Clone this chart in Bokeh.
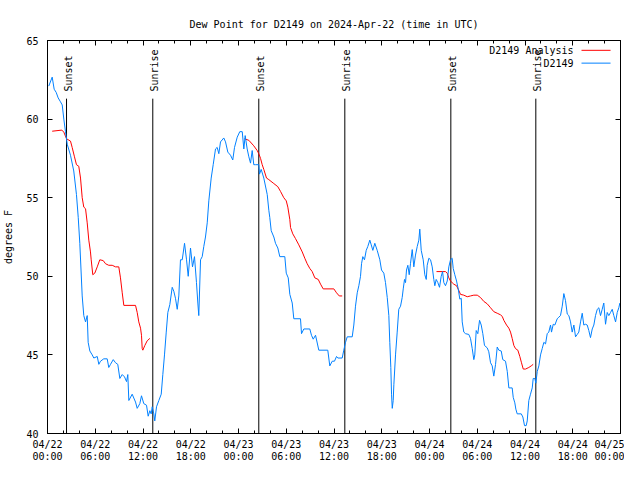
import math
from datetime import datetime, timedelta
from bokeh.plotting import figure
from bokeh.models import Range1d, FixedTicker, DatetimeTickFormatter, LinearAxis, DatetimeAxis, Label
from bokeh.core.properties import value
from bokeh.embed import file_html
from bokeh.resources import INLINE

TITLE = "Dew Point for D2149 on 2024-Apr-22 (time in UTC)"
Y_LABEL = "degrees F"
START = datetime(2024, 4, 22, 0, 0)
SPAN_HOURS = 72
Y_TICKS = [40, 45, 50, 55, 60, 65]

# observed dew point (hours after 04/22 00:00 UTC, deg F)
obs_h = [0.16, 0.59, 0.84, 1.09, 1.34, 1.63, 1.85, 2.05, 2.26, 2.48, 2.89, 3.30, 3.64, 3.86, 4.06,
         4.36, 4.56, 4.78, 4.99, 5.11, 5.32, 5.62, 5.82, 6.25, 6.45, 6.66, 7.07, 7.50, 7.70, 7.92,
         8.26, 8.55, 8.83, 9.09, 9.39, 9.68, 9.93, 10.09, 10.22, 10.64, 11.06, 11.27, 11.60, 11.81,
         12.10, 12.44, 12.65, 12.86, 13.03, 13.16, 13.36, 13.48, 13.70, 13.99, 14.29, 14.49, 14.70,
         14.92, 15.12, 15.37, 15.67, 15.87, 16.08, 16.30, 16.50, 16.71, 16.93, 17.22, 17.47, 17.68,
         17.97, 18.22, 18.47, 18.72, 18.89, 19.01, 19.23, 19.44, 19.64, 19.85, 20.07, 20.27, 20.57,
         20.82, 21.11, 21.32, 21.53, 21.74, 22.15, 22.37, 22.66, 23.00, 23.28, 23.50, 23.84, 24.16,
         24.47, 24.67, 24.84, 25.09, 25.30, 25.51, 25.72, 25.92, 26.14, 26.55, 26.64, 26.85, 27.18,
         27.61, 27.81, 27.93, 28.11, 28.44, 28.65, 28.94, 29.19, 29.82, 30.00, 30.25, 30.45, 30.75,
         30.95, 31.79, 31.92, 32.21, 32.96, 33.17, 33.39, 33.68, 34.09, 35.22, 35.47, 35.78, 36.06,
         36.32, 36.48, 37.03, 37.23, 37.45, 37.66, 38.29, 38.49, 38.70, 38.92, 39.12, 39.33, 39.46,
         39.62, 39.83, 40.05, 40.25, 40.50, 40.68, 40.88, 41.13, 41.43, 41.76, 41.97, 42.26, 42.47,
         42.69, 42.89, 43.01, 43.14, 43.23, 43.32, 43.44, 43.52, 43.73, 43.94, 44.14, 44.36, 44.57,
         44.70, 44.86, 44.99, 45.11, 45.28, 45.45, 45.61, 45.83, 46.03, 46.24, 46.46, 46.66, 46.78,
         46.96, 47.21, 47.41, 47.59, 47.71, 47.92, 48.13, 48.34, 48.54, 48.67, 48.84, 49.05, 49.26,
         49.47, 49.64, 49.80, 50.01, 50.23, 50.43, 50.64, 50.85, 50.98, 51.18, 51.40, 51.61, 51.81,
         51.99, 52.11, 52.31, 52.53, 52.94, 53.15, 53.37, 53.57, 53.69, 53.87, 54.07, 54.29, 54.50,
         54.70, 54.91, 55.25, 55.45, 55.67, 55.88, 56.08, 56.30, 56.51, 56.71, 57.01, 57.21, 57.55,
         57.77, 57.97, 58.39, 58.52, 58.72, 58.85, 59.02, 59.53, 59.73, 59.94, 60.15, 60.28, 60.48,
         60.69, 60.91, 61.03, 61.24, 61.36, 61.54, 61.74, 61.95, 62.16, 62.37, 62.58, 62.79, 62.99,
         63.21, 63.33, 63.55, 63.75, 64.05, 64.25, 64.46, 64.68, 64.88, 65.09, 65.31, 65.51, 65.72,
         65.93, 66.14, 66.35, 66.56, 66.76, 66.98, 67.19, 67.39, 67.61, 67.82, 68.02, 68.23, 68.45,
         68.65, 68.86, 69.08, 69.28, 69.49, 69.70, 69.90, 70.12, 70.33, 70.53, 70.75, 70.96, 71.16,
         71.38, 71.59, 71.79, 71.92]
obs_v = [62.1, 62.67, 61.9, 61.7, 61.35, 61.1, 60.9, 60.0, 59.2, 58.4, 57.7, 56.7, 55.2, 53.75, 52.1,
         48.75, 47.5, 47.1, 47.5, 45.8, 45.25, 45.0, 44.8, 44.9, 44.4, 44.6, 44.75, 44.75, 44.2, 44.4,
         44.7, 44.5, 44.4, 43.5, 43.75, 43.6, 43.3, 43.75, 42.1, 42.5, 42.0, 41.6, 41.9, 42.4,
         41.9, 41.8, 41.1, 41.45, 41.25, 41.7, 41.25, 40.8, 41.7, 42.1, 42.5, 43.75, 45.0,
         46.45, 47.7, 48.2, 49.3, 49.05, 48.6, 47.9, 48.75, 51.05, 51.05, 52.1, 51.05, 50.0,
         51.8, 50.6, 51.25, 49.6, 48.3, 47.5, 51.05, 51.25, 51.9, 52.5, 53.4, 54.8, 56.25,
         57.1, 58.1, 58.2, 57.8, 58.55, 58.8, 58.55, 57.9, 57.7, 57.4, 58.2, 58.85, 59.2,
         59.2, 58.1, 58.95, 58.1, 57.6, 57.2, 58.0, 57.1, 57.1, 57.1, 56.5, 56.8, 56.25,
         55.2, 54.2, 53.75, 52.9, 52.5, 52.1, 51.8, 51.25, 51.25, 50.2, 49.9, 48.85, 48.3,
         47.3, 47.3, 46.35, 46.65, 46.65, 46.25, 46.0, 46.25, 45.3, 45.3, 44.3, 44.6, 44.6,
         44.9, 44.8, 44.8, 45.3, 45.8, 46.15, 46.15, 46.9, 48.1, 48.95, 49.4, 50.0, 50.8,
         51.25, 51.05, 51.65, 51.9, 52.3, 52.0, 51.65, 52.1, 51.65, 51.05, 50.4, 50.2, 49.6,
         48.65, 47.5, 45.8, 44.2, 42.5, 41.6, 42.1, 43.1, 45.0, 46.45, 47.9, 48.1, 48.65,
         49.2, 49.8, 49.6, 50.4, 50.7, 50.1, 50.8, 51.7, 50.6, 51.35, 51.9, 52.3, 53.0,
         51.65, 51.05, 50.1, 49.8, 50.7, 51.15, 51.05, 50.6, 49.8, 49.4, 49.8, 49.6, 49.3,
         50.0, 50.3, 49.6, 49.4, 49.7, 50.6, 51.05, 51.15, 50.5, 50.1, 49.7, 49.2, 48.55,
         48.6, 47.1, 46.45, 46.35, 46.3, 46.05, 45.4, 44.7, 45.0, 46.55, 46.35, 47.2, 46.9,
         46.35, 45.6, 45.45, 45.2, 44.5, 44.3, 43.65, 44.4, 45.5, 45.3, 45.25, 44.7, 44.6,
         43.95, 42.9, 42.9, 42.3, 41.95, 41.55, 41.25, 41.25, 41.05, 40.5, 40.5, 40.8, 42.1,
         42.5, 42.9, 43.5, 43.5, 43.2, 43.95, 44.3, 45.0, 45.4, 45.8, 45.7, 46.35, 46.45,
         46.9, 46.45, 46.95, 46.9, 47.3, 47.4, 47.5, 48.1, 48.9, 48.45, 47.6, 47.5, 47.1,
         46.45, 46.9, 46.15, 46.3, 46.45, 47.1, 47.65, 46.9, 46.95, 46.9, 46.55, 46.1, 46.65,
         46.9, 47.5, 47.9, 48.0, 47.5, 47.9, 48.3, 46.95, 47.7, 47.5, 47.7, 47.9, 47.5,
         47.1, 47.7, 48.0, 48.3]

# analysis dew point, three separate runs
ana1_h = [0.59, 1.80, 2.05, 2.39, 2.89, 3.10, 3.39, 3.64, 3.93, 4.15, 4.36, 4.56, 4.78, 4.99, 5.19,
          5.40, 5.49, 5.69, 5.94, 6.25, 6.57, 7.00, 7.29, 7.70, 8.13, 8.55, 8.96, 9.17, 9.39, 9.59,
          11.06, 11.27, 11.47, 11.69, 11.81, 11.90, 11.98, 12.23, 12.53, 12.86]
ana1_v = [59.23, 59.3, 59.17, 58.75, 58.6, 58.2, 57.6, 57.1, 57.0, 56.25, 55.0, 54.4, 54.3, 53.4, 52.3,
          51.55, 51.05, 50.1, 50.2, 50.6, 51.05, 51.0, 50.8, 50.7, 50.7, 50.6, 50.6, 49.9, 48.95, 48.15,
          48.15, 47.7, 47.1, 46.7, 46.25, 45.4, 45.3, 45.6, 45.9, 46.05]
ana2_h = [24.76, 25.30, 25.92, 26.35, 26.55, 26.77, 26.98, 27.18, 27.52, 27.81, 28.44, 28.94, 29.28,
          29.69, 30.00, 30.20, 30.45, 30.54, 30.82, 31.16, 31.58, 32.01, 32.33, 32.63, 32.96, 33.26,
          33.59, 34.02, 34.31, 34.64, 35.98, 36.32, 36.66, 37.03]
ana2_v = [58.75, 58.65, 58.3, 58.0, 57.8, 57.5, 57.1, 56.8, 56.25, 56.15, 55.9, 55.7, 55.4,
          55.0, 54.8, 54.4, 53.6, 53.1, 52.7, 52.4, 52.0, 51.55, 51.15, 50.8, 50.5, 50.3,
          49.9, 49.8, 49.5, 49.2, 49.2, 48.95, 48.75, 48.75]
ana3_h = [48.88, 50.01, 50.23, 50.43, 50.64, 50.85, 51.05, 51.40, 51.68, 51.90, 52.31, 52.74, 53.15,
          53.57, 54.00, 54.41, 54.83, 55.25, 55.67, 56.08, 56.51, 56.92, 57.14, 57.34, 57.68, 57.97,
          58.18, 58.39, 58.60, 58.81, 59.10, 59.35, 59.56, 59.78, 60.07, 60.48, 60.78, 61.03]
ana3_v = [50.3, 50.3, 50.2, 49.9, 49.7, 49.6, 49.5, 49.4, 49.1, 48.85, 48.8, 48.7, 48.75,
          48.8, 48.8, 48.65, 48.4, 48.25, 48.0, 47.75, 47.65, 47.55, 47.45, 47.2, 46.9, 46.7,
          46.45, 46.05, 45.6, 45.4, 45.3, 44.9, 44.5, 44.1, 44.1, 44.2, 44.3, 44.4]

sun_h = [2.39, 13.23, 26.55, 37.36, 50.68, 61.36]
sun_labels = ["Sunset", "Sunrise", "Sunset", "Sunrise", "Sunset", "Sunrise"]

FONT = "DejaVu Sans Mono"
FS = "10px"
RED = "#ff0000"
BLUE = "#0080ff"


def t(h):
    return START + timedelta(hours=h)


def ms(h):
    return (t(h) - datetime(1970, 1, 1)).total_seconds() * 1000.0


p = figure(width=624, height=464, output_backend="svg", toolbar_location=None,
           x_axis_type="datetime",
           x_range=Range1d(t(0), t(SPAN_HOURS)), y_range=Range1d(40, 65),
           min_border_left=47, min_border_right=4, min_border_top=40, min_border_bottom=27)
p.title.text = TITLE
p.title.text_font = FONT
p.title.text_font_size = FS
p.title.text_font_style = "normal"
p.title.text_color = "black"
p.title.align = "center"
p.title.offset = 0
p.title.standoff = 22
p.grid.visible = False
p.outline_line_color = "black"
p.background_fill_color = "white"
p.border_fill_color = "white"

major = [ms(h) for h in range(0, SPAN_HOURS + 1, 6)]
minor = [ms(h) for h in range(0, SPAN_HOURS + 1, 2)]
xticker = FixedTicker(ticks=major, minor_ticks=minor)
fmt = "%m/%d\n%H:%M"
xfmt = DatetimeTickFormatter(microseconds=fmt, milliseconds=fmt, seconds=fmt, minsec=fmt,
                             minutes=fmt, hourmin=fmt, hours=fmt, days=fmt, months=fmt, years=fmt)
yticker = FixedTicker(ticks=Y_TICKS, minor_ticks=[])


def style_axis(ax, show_labels):
    ax.axis_line_color = "black"
    ax.major_tick_line_color = "black"
    ax.minor_tick_line_color = "black"
    ax.major_tick_in = 5
    ax.major_tick_out = 0
    ax.minor_tick_in = 3
    ax.minor_tick_out = 0
    ax.major_label_text_font = FONT
    if show_labels:
        ax.major_label_text_font_size = FS
        ax.major_label_text_color = "black"
    else:
        ax.major_label_text_font_size = "1px"
        ax.major_label_text_color = None
        ax.major_label_standoff = 0


xa = p.xaxis[0]
xa.ticker = xticker
xa.formatter = xfmt
style_axis(xa, True)
xa.major_label_standoff = 5
xa.major_label_text_line_height = 1.1

ya = p.yaxis[0]
ya.ticker = yticker
style_axis(ya, True)
ya.major_label_standoff = 9
ya.axis_label = Y_LABEL
ya.axis_label_text_font = FONT
ya.axis_label_text_font_size = FS
ya.axis_label_text_font_style = "normal"
ya.axis_label_text_color = "black"
ya.axis_label_standoff = 9

ra = LinearAxis(ticker=yticker)
style_axis(ra, False)
p.add_layout(ra, "right")
ta = DatetimeAxis(ticker=xticker, formatter=xfmt)
style_axis(ta, False)
p.add_layout(ta, "above")

# sunrise / sunset markers
sun_t = [t(h) for h in sun_h]
p.segment(x0=sun_t, y0=[40] * len(sun_t), x1=sun_t, y1=[61.3] * len(sun_t),
          line_color="black", line_width=1)
p.text(x=sun_t, y=[61.75] * len(sun_t), text=sun_labels, angle=math.pi / 2,
       text_align="left", text_baseline="middle", x_offset=2,
       text_font=value(FONT), text_font_size=value(FS), text_color="black")

# analysis line (gaps between runs)
nan = float("nan")
ana_h = ana1_h + [nan] + ana2_h + [nan] + ana3_h
ana_v = ana1_v + [nan] + ana2_v + [nan] + ana3_v
ana_ms = [ms(h) if not math.isnan(h) else nan for h in ana_h]
p.line(ana_ms, ana_v, line_color=RED, line_width=1)
p.line([t(h) for h in obs_h], obs_v, line_color=BLUE, line_width=1)

# key (top right, gnuplot style: text then sample)
key_text_h = 66.1
key_x0, key_x1 = 67.1, 70.75
for yk, name, col in [(64.375, "D2149 Analysis", RED), (63.56, "D2149", BLUE)]:
    p.add_layout(Label(x=ms(key_text_h), y=yk, text=name, text_align="right", text_baseline="middle",
                       text_font=FONT, text_font_size=FS, text_color="black"))
    p.line([t(key_x0), t(key_x1)], [yk, yk], line_color=col, line_width=1)

open("out.html", "w").write(file_html(p, INLINE))
